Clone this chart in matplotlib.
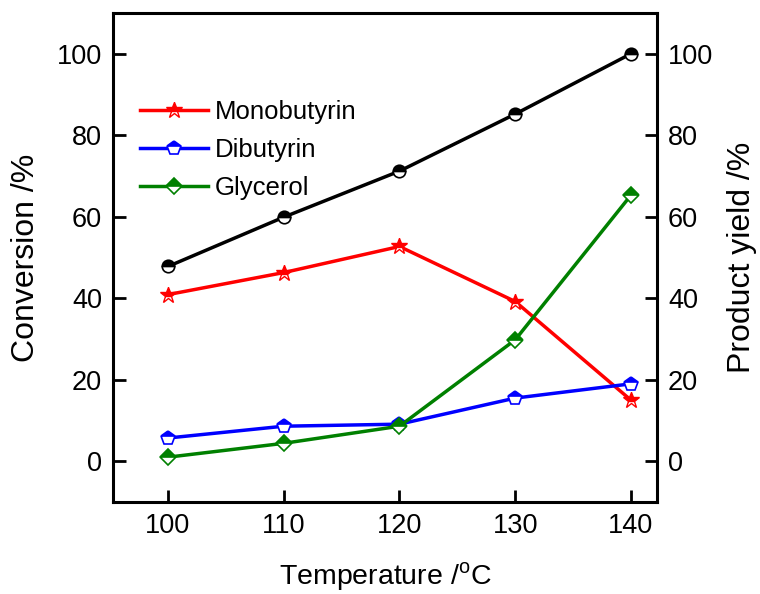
import matplotlib
matplotlib.use("Agg")
import matplotlib.pyplot as plt

plt.rcParams['font.family'] = ['Liberation Sans', 'DejaVu Sans']
plt.rcParams['mathtext.fontset'] = 'custom'
plt.rcParams['mathtext.rm'] = 'Liberation Sans'

temperature = [100, 110, 120, 130, 140]
conversion = [47.8, 59.9, 71.2, 85.2, 100.0]
monobutyrin = [40.9, 46.3, 52.7, 39.2, 15.0]
dibutyrin = [5.7, 8.6, 9.1, 15.5, 19.0]
glycerol = [1.0, 4.4, 8.6, 29.8, 65.3]

fig = plt.figure(figsize=(7.6, 5.94), dpi=100)
ax = fig.add_axes([113 / 760, 92 / 594, 544 / 760, 489 / 594])

lw = 2.5
ms = 9
common = dict(lw=lw, fillstyle='top', markerfacecoloralt='white', markeredgewidth=1.2)
ax.plot(temperature, conversion, color='black', marker='o', mfc='black', mec='black', ms=ms, **common)
ax.plot(temperature, monobutyrin, color='red', marker='*', mfc='red', mec='red', label='Monobutyrin',
        lw=lw, ms=ms + 3, fillstyle='top', markerfacecoloralt='white', markeredgewidth=1.0)
ax.plot(temperature, dibutyrin, color='blue', marker='p', mfc='blue', mec='blue', label='Dibutyrin',
        ms=ms + 1, **common)
ax.plot(temperature, glycerol, color='green', marker='D', mfc='green', mec='green', label='Glycerol',
        ms=ms - 0.5, **common)

ax.set_xlim(95.25, 142.25)
ax.set_ylim(-10, 110)
ax.set_xticks(temperature)
ax.set_yticks([0, 20, 40, 60, 80, 100])
ax.tick_params(direction='in', length=9, width=2, labelsize=19.5, pad=8)
for s in ax.spines.values():
    s.set_linewidth(2.2)
ax.set_xlabel(r'Temperature /$^\mathregular{o}$C', fontsize=20.5, labelpad=15)
ax.set_ylabel('Conversion /%', fontsize=23, labelpad=11)

ax2 = ax.twinx()
ax2.set_ylim(-10, 110)
ax2.set_yticks([0, 20, 40, 60, 80, 100])
ax2.tick_params(direction='in', length=9, width=2, labelsize=19.5, pad=8)
ax2.set_ylabel('Product yield /%', fontsize=23, labelpad=10)

ax.legend(loc='upper left', bbox_to_anchor=(0.031, 0.844), frameon=False, fontsize=18.5,
          handlelength=2.65, handletextpad=0.25, labelspacing=0.55, borderaxespad=0)

fig.savefig('out.png', dpi=100)
